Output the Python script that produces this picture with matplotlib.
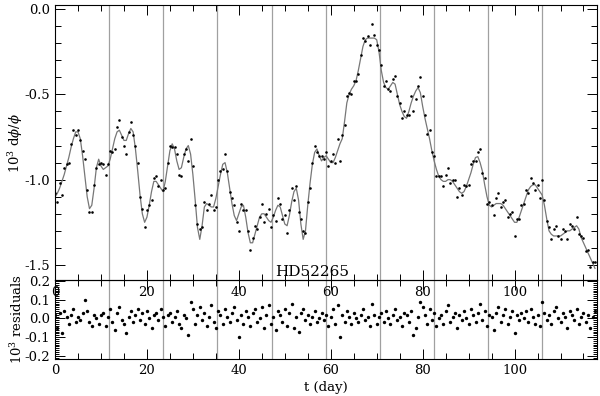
import numpy as np
import matplotlib
matplotlib.use("Agg")
import matplotlib.pyplot as plt
from matplotlib.ticker import MultipleLocator, FormatStrFormatter

# observation times (days), half-day grid
t_obs = np.arange(0, 118, 0.5)

# fitted model, 10^3 d(phi)/phi, read at each t_obs
model = [
    -1.10, -1.08, -1.05, -1.01, -0.97, -0.92, -0.87, -0.81, -0.76, -0.72,
    -0.72, -0.76, -0.86, -0.98, -1.10, -1.17, -1.15, -1.05, -0.93, -0.88,
    -0.92, -0.94, -0.93, -0.92, -0.88, -0.82, -0.76, -0.72, -0.71, -0.74,
    -0.77, -0.77, -0.73, -0.70, -0.72, -0.82, -0.95, -1.09, -1.20, -1.25,
    -1.22, -1.15, -1.07, -1.01, -1.01, -1.03, -1.05, -1.07, -1.01, -0.92,
    -0.83, -0.79, -0.82, -0.89, -0.94, -0.93, -0.87, -0.82, -0.80, -0.85,
    -0.97, -1.12, -1.28, -1.35, -1.27, -1.16, -1.14, -1.15, -1.16, -1.16,
    -1.11, -1.04, -0.97, -0.91, -0.90, -0.96, -1.05, -1.14, -1.21, -1.24,
    -1.20, -1.16, -1.15, -1.22, -1.31, -1.37, -1.37, -1.32, -1.27, -1.22,
    -1.20, -1.20, -1.22, -1.24, -1.25, -1.22, -1.18, -1.15, -1.16, -1.21,
    -1.26, -1.27, -1.21, -1.13, -1.07, -1.05, -1.12, -1.26, -1.35, -1.30,
    -1.15, -1.02, -0.91, -0.84, -0.82, -0.86, -0.89, -0.87, -0.86, -0.88,
    -0.90, -0.90, -0.87, -0.83, -0.79, -0.76, -0.66, -0.55, -0.50, -0.47,
    -0.45, -0.42, -0.36, -0.29, -0.22, -0.18, -0.17, -0.17, -0.17, -0.17,
    -0.18, -0.25, -0.36, -0.43, -0.46, -0.47, -0.45, -0.43, -0.44, -0.50,
    -0.56, -0.60, -0.63, -0.64, -0.60, -0.55, -0.51, -0.48, -0.46, -0.49,
    -0.57, -0.64, -0.70, -0.76, -0.83, -0.89, -0.94, -0.98, -1.00, -1.01,
    -1.01, -1.00, -1.00, -1.01, -1.03, -1.05, -1.07, -1.08, -1.07, -1.04,
    -1.00, -0.96, -0.91, -0.87, -0.865, -0.90, -0.95, -1.03, -1.10, -1.15,
    -1.16, -1.15, -1.14, -1.14, -1.14, -1.15, -1.17, -1.19, -1.21, -1.23,
    -1.25, -1.25, -1.22, -1.18, -1.14, -1.10, -1.06, -1.04, -1.03, -1.03,
    -1.05, -1.07, -1.09, -1.15, -1.23, -1.30, -1.32, -1.33, -1.33, -1.33,
    -1.33, -1.32, -1.31, -1.30, -1.30, -1.29, -1.28, -1.27, -1.29, -1.34,
    -1.37, -1.40, -1.43, -1.46, -1.49, -1.52,
]

# residuals (data - model), 10^3 units
resid = [
    0.02, -0.05, 0.03, -0.08, 0.04, 0.01, -0.03, 0.02, 0.05, -0.02,
    0.01, -0.01, 0.03, 0.10, 0.04, -0.02, -0.04, 0.02, 0.00, -0.03,
    0.02, 0.03, -0.04, 0.01, 0.05, -0.02, -0.06, 0.03, 0.06, -0.01,
    -0.03, -0.08, 0.01, 0.04, -0.02, 0.02, 0.05, -0.01, 0.03, -0.03,
    0.04, 0.00, -0.05, 0.02, 0.03, -0.01, 0.05, 0.01, -0.04, 0.02,
    0.03, -0.02, 0.01, 0.04, -0.03, -0.05, 0.02, 0.00, -0.09, 0.09,
    0.05, -0.03, 0.02, 0.06, -0.01, 0.03, -0.04, 0.01, 0.07, -0.02,
    -0.05, 0.04, 0.02, -0.03, 0.05, 0.01, -0.02, 0.03, 0.06, -0.01,
    -0.10, 0.02, -0.03, 0.04, 0.01, -0.04, 0.03, 0.05, -0.02, 0.00,
    0.06, -0.05, 0.02, 0.07, -0.03, 0.01, -0.06, 0.04, 0.02, -0.02,
    0.05, -0.04, 0.03, 0.08, -0.05, 0.01, -0.07, 0.03, 0.05, -0.01,
    0.02, -0.03, 0.01, 0.04, -0.02, 0.00, 0.03, -0.01, 0.02, -0.04,
    0.01, 0.05, -0.03, 0.07, -0.10, 0.02, -0.02, 0.04, 0.01, -0.03,
    0.03, 0.00, -0.02, 0.02, 0.05, -0.01, 0.01, -0.04, 0.08, 0.02,
    -0.03, 0.01, 0.03, -0.02, 0.04, 0.00, -0.03, 0.02, 0.05, -0.01,
    0.01, -0.04, 0.03, 0.02, -0.02, 0.04, -0.09, -0.05, 0.01, 0.09,
    0.06, 0.02, -0.03, 0.05, -0.01, 0.03, -0.04, 0.00, 0.02, -0.03,
    0.04, 0.07, -0.02, 0.01, 0.03, -0.05, 0.02, -0.01, 0.04, 0.00,
    -0.03, 0.05, 0.02, -0.02, 0.03, 0.08, -0.01, 0.04, -0.04, 0.02,
    0.01, -0.06, 0.03, 0.06, -0.02, 0.02, 0.05, -0.03, 0.01, 0.04,
    -0.08, 0.02, -0.01, 0.03, 0.00, 0.04, -0.02, 0.05, 0.01, -0.03,
    0.02, -0.04, 0.09, 0.03, -0.01, 0.02, -0.03, 0.04, 0.06, 0.00,
    -0.02, 0.03, 0.01, -0.05, 0.04, 0.02, -0.01, 0.05, -0.03, 0.01,
    0.03, -0.02, 0.02, -0.05, 0.01, 0.04,
]

period = 11.78     # vertical markers, one per rotation
star = "HD52265"

model = np.array(model)
resid = np.array(resid)
data = model + resid
marks = period * np.arange(1, 10)

plt.rcParams["font.family"] = ["DejaVu Serif"]
plt.rcParams["mathtext.fontset"] = "dejavuserif"
plt.rcParams["font.size"] = 9.5

fig = plt.figure(figsize=(6.0, 3.96), dpi=100)
ax1 = fig.add_axes([0.0917, 0.293, 0.903, 0.694])
ax2 = fig.add_axes([0.0917, 0.0934, 0.903, 0.1995])
ax2.patch.set_alpha(0)
ax1.set_zorder(1)
ax1.patch.set_alpha(0)

for ax in (ax1, ax2):
    for m in marks:
        ax.axvline(m, color="#a0a0a0", lw=0.9, zorder=0)
    ax.set_xlim(0, 117.9)
    ax.xaxis.set_major_locator(MultipleLocator(20))
    ax.xaxis.set_minor_locator(MultipleLocator(5))
    ax.tick_params(which="both", direction="in", top=True, right=True, width=0.7)
    ax.tick_params(which="major", length=7)
    ax.tick_params(which="minor", length=4)
    for s in ax.spines.values():
        s.set_linewidth(0.8)

ax1.plot(t_obs, model, color="#777777", lw=0.9, zorder=2)
ax1.scatter(t_obs, data, s=3.5, color="k", lw=0, zorder=3)
ax1.set_ylim(-1.588, 0.023)
ax1.yaxis.set_major_locator(MultipleLocator(0.5))
ax1.yaxis.set_minor_locator(MultipleLocator(0.1))
ax1.yaxis.set_major_formatter(FormatStrFormatter("%.1f"))
ax1.tick_params(axis="x", which="major", pad=4)
ax1.set_ylabel(r"10$^3$ d$\phi$/$\phi$")
ax1.yaxis.set_label_coords(-0.056, 0.5)
ax1.text(0.474, 0.005, star, transform=ax1.transAxes, ha="center",
         va="bottom", fontsize=11)

ax2.scatter(t_obs, resid, s=6, color="k", lw=0, zorder=3)
ax2.set_ylim(-0.218, 0.207)
ax2.yaxis.set_major_locator(MultipleLocator(0.1))
ax2.yaxis.set_minor_locator(MultipleLocator(0.01))
ax2.yaxis.set_major_formatter(FormatStrFormatter("%.1f"))
ax2.tick_params(axis="y", which="minor", length=3)
ax2.set_xlabel("t (day)", labelpad=3)
ax2.set_ylabel(r"10$^3$ residuals")
ax2.yaxis.set_label_coords(-0.056, 0.5)

fig.savefig("out.png", dpi=100)
